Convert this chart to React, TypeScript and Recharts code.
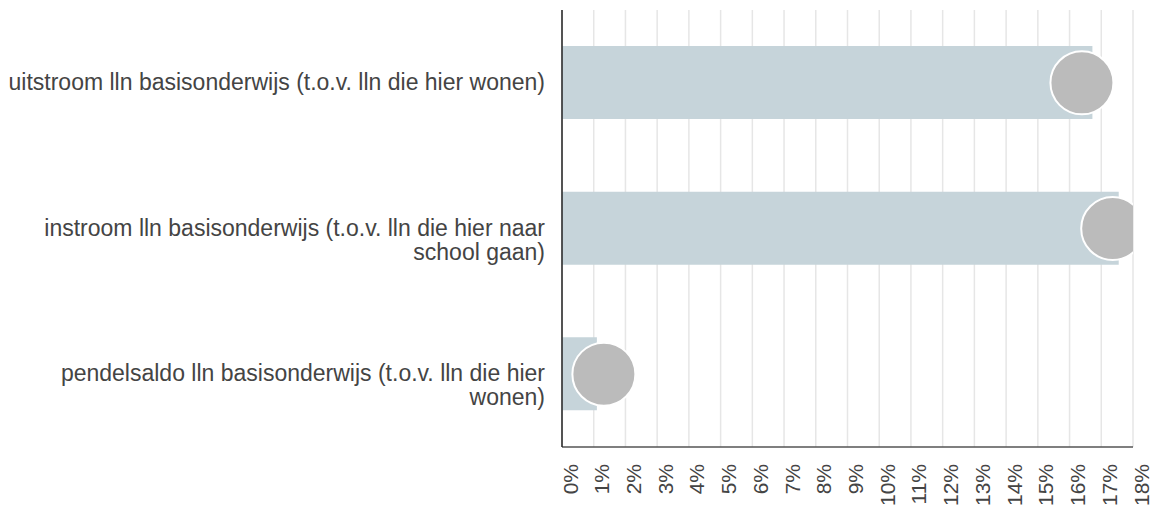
import { ComposedChart, Bar, Scatter, XAxis, YAxis, CartesianGrid } from "recharts"

const categories = [
  "uitstroom lln basisonderwijs (t.o.v. lln die hier wonen)",
  "instroom lln basisonderwijs (t.o.v. lln die hier naar school gaan)",
  "pendelsaldo lln basisonderwijs (t.o.v. lln die hier wonen)",
]
const barValues = [16.72, 17.55, 1.1]
const dotValues = [16.39, 17.36, 1.32]
const xTicks = [0, 1, 2, 3, 4, 5, 6, 7, 8, 9, 10, 11, 12, 13, 14, 15, 16, 17, 18]

const data = categories.map((name, i) => ({ name, bar: barValues[i], dot: dotValues[i] }))

const FONT = "'Liberation Sans', Arial, sans-serif"
const TEXT = "#444"
const LABEL_SIZE = 23
const LABEL_WIDTH = 540

let ctx: CanvasRenderingContext2D | null = null
function measure(s: string) {
  if (!ctx) ctx = document.createElement("canvas").getContext("2d")
  if (!ctx) return s.length * LABEL_SIZE * 0.5
  ctx.font = `${LABEL_SIZE}px ${FONT}`
  return ctx.measureText(s).width
}

function wrap(s: string) {
  const lines: string[] = []
  let cur = ""
  for (const w of s.split(" ")) {
    const next = cur ? cur + " " + w : w
    if (cur && measure(next) > LABEL_WIDTH) {
      lines.push(cur)
      cur = w
    } else cur = next
  }
  if (cur) lines.push(cur)
  return lines
}

function CategoryTick(props: any) {
  const { x, y, payload } = props
  const lines = wrap(String(payload.value))
  return (
    <text x={x} y={y} textAnchor="end" fontSize={LABEL_SIZE} fontFamily={FONT} fill={TEXT}>
      {lines.map((l, i) => (
        <tspan key={i} x={x} dy={i === 0 ? 7 : 24}>
          {l}
        </tspan>
      ))}
    </text>
  )
}

function PercentTick(props: any) {
  const { x, y, payload } = props
  return (
    <text
      x={x}
      y={y}
      transform={`rotate(-90 ${x} ${y})`}
      textAnchor="end"
      dy={15.5}
      fontSize={21}
      fontFamily={FONT}
      fill={TEXT}
    >
      {`${payload.value}%`}
    </text>
  )
}

function Dot(props: any) {
  const { cx, cy } = props
  return <circle cx={cx} cy={cy} r={31.5} fill="#bbbbbb" stroke="#ffffff" strokeWidth={2} />
}

export default function App() {
  return (
    <div style={{ position: "absolute", left: 0, top: 0, background: "#fff" }}>
      <ComposedChart
        width={1155}
        height={509}
        data={data}
        layout="vertical"
        margin={{ top: 10, right: 22, bottom: 0, left: 0 }}
        barCategoryGap="25%"
      >
        <CartesianGrid horizontal={false} stroke="#e6e6e6" strokeWidth={1.5} />
        <XAxis
          type="number"
          domain={[0, 18]}
          ticks={xTicks}
          allowDataOverflow
          interval={0}
          height={62}
          tickLine={false}
          tickSize={6}
          tickMargin={11}
          tick={<PercentTick />}
          axisLine={{ stroke: "#555", strokeWidth: 1.5 }}
        />
        <YAxis
          type="category"
          dataKey="name"
          width={562}
          tickLine={false}
          tickSize={6}
          tickMargin={11}
          tick={<CategoryTick />}
          axisLine={{ stroke: "#222", strokeWidth: 1.5 }}
        />
        <Bar dataKey="bar" fill="#c6d4da" barSize={73} isAnimationActive={false} />
        <Scatter dataKey="dot" shape={<Dot />} isAnimationActive={false} />
      </ComposedChart>
    </div>
  )
}
